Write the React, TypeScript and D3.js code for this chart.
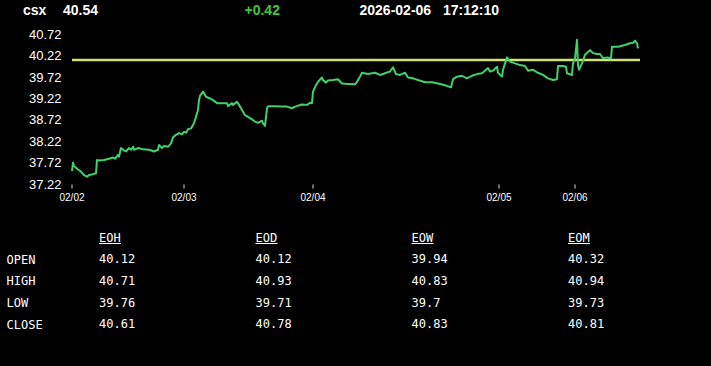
import React, { useEffect } from "react";
import * as d3 from "d3";

const symbol = "csx";
const lastPrice = "40.54";
const change = "+0.42";
const dateText = "2026-02-06";
const timeText = "17:12:10";
const refValue = 40.12;

const yTickLabels = [37.22, 37.72, 38.22, 38.72, 39.22, 39.72, 40.22, 40.72];
const xTickIdx = [0, 112, 241, 427, 503];
const xTickLabels = ["02/02", "02/03", "02/04", "02/05", "02/06"];

const idx = [0,1,2,6,9,12,15,17,21,24,25,27,32,37,41,43,46,47,49,51,54,57,59,61,62,66,71,77,82,86,87,90,92,96,99,101,104,107,110,112,114,116,119,122,124,126,127,128,131,134,138,141,145,150,155,156,160,161,165,167,170,173,176,180,183,186,190,191,193,195,196,203,210,215,220,223,230,235,238,240,241,244,246,250,251,254,256,261,266,270,276,283,285,288,290,296,303,308,313,318,321,324,328,333,336,341,346,353,360,366,373,379,381,385,390,395,400,405,410,413,416,418,421,425,426,430,431,435,438,443,448,453,456,461,466,471,476,481,485,486,491,494,495,500,501,503,505,506,507,510,513,518,521,525,528,531,535,539,540,546,553,558,561,563,565,566];
const price = [37.52,37.72,37.64,37.56,37.51,37.43,37.39,37.43,37.45,37.47,37.78,37.77,37.78,37.81,37.84,37.81,37.90,37.86,38.06,38.02,37.98,38.06,38.02,38.09,38.02,38.06,38.03,38.02,37.98,38.02,38.13,38.06,38.11,38.09,38.17,38.31,38.37,38.41,38.38,38.44,38.42,38.50,38.52,38.64,38.79,38.95,39.18,39.28,39.38,39.26,39.22,39.18,39.11,39.11,39.11,39.04,39.11,39.07,39.14,39.07,38.95,38.83,38.79,38.73,38.68,38.65,38.70,38.64,38.58,38.99,39.04,39.04,39.03,39.03,38.99,39.03,39.08,39.07,39.12,39.11,39.38,39.53,39.61,39.71,39.65,39.59,39.64,39.65,39.67,39.57,39.56,39.55,39.61,39.73,39.82,39.79,39.82,39.77,39.81,39.85,39.95,39.79,39.77,39.82,39.71,39.69,39.65,39.60,39.60,39.57,39.53,39.48,39.67,39.73,39.75,39.69,39.75,39.79,39.81,39.87,39.93,39.85,39.87,39.96,39.82,39.73,39.89,40.18,40.08,40.04,40.00,39.98,39.87,39.89,39.82,39.77,39.69,39.65,39.67,39.98,39.98,39.96,39.81,39.77,40.04,40.16,40.59,40.00,39.89,40.04,40.24,40.35,40.28,40.26,40.26,40.16,40.18,40.16,40.43,40.43,40.47,40.51,40.52,40.57,40.51,40.39];

const tableCols = ["EOH", "EOD", "EOW", "EOM"];
const tableRows = ["OPEN", "HIGH", "LOW", "CLOSE"];
const eohVals = ["40.12", "40.71", "39.76", "40.61"];
const eodVals = ["40.12", "40.93", "39.71", "40.78"];
const eowVals = ["39.94", "40.83", "39.7", "40.83"];
const eomVals = ["40.32", "40.94", "39.73", "40.81"];

const W = 711;
const H = 366;

export default function App() {
  useEffect(() => {
    document.body.style.margin = "0";
    document.body.style.background = "#000";
  }, []);

  const x = d3.scaleLinear().domain([0, 568]).range([72, 640]);
  const y = d3.scaleLinear().domain([37.22, 40.72]).range([184, 34.3]);
  const pts: [number, number][] = idx.map((t, i) => [t, price[i]]);
  const line = d3
    .line<[number, number]>()
    .x((d) => x(d[0]))
    .y((d) => y(d[1]));

  const colX = [99, 255.5, 411.5, 568];
  const colVals = [eohVals, eodVals, eowVals, eomVals];
  const rowY = (i: number) => 259 + i * 21.9;
  const mono = "'DejaVu Sans Mono', monospace";
  const sans = "'Liberation Sans', Arial, sans-serif";

  return (
    <svg width={W} height={H} style={{ display: "block", background: "#000" }}>
      <rect x={0} y={0} width={W} height={H} fill="#000" />
      <g fontFamily={sans} fontWeight="bold" fontSize={14}>
        <text x={23} y={15} fill="#fff">{symbol}</text>
        <text x={63} y={15} fill="#fff">{lastPrice}</text>
        <text x={244.5} y={15} fill="#3fc63f">{change}</text>
        <text x={359.5} y={15} fill="#fff">{dateText}</text>
        <text x={443} y={15} fill="#fff">{timeText}</text>
      </g>
      <g fontFamily={sans} fontSize={13} fill="#fff" textAnchor="end">
        {yTickLabels.map((v) => (
          <text key={v} x={61.5} y={y(v)} dominantBaseline="central">
            {v.toFixed(2)}
          </text>
        ))}
      </g>
      <g>
        {xTickIdx.map((t, i) => (
          <g key={t}>
            <line x1={x(t)} x2={x(t)} y1={184.5} y2={188.5} stroke="#ddd" strokeWidth={1} />
            <text
              x={x(t)}
              y={197.5}
              fontFamily={sans}
              fontSize={10}
              fill="#fff"
              textAnchor="middle"
              dominantBaseline="central"
            >
              {xTickLabels[i]}
            </text>
          </g>
        ))}
      </g>
      <line x1={72} x2={640} y1={y(refValue)} y2={y(refValue)} stroke="#d3e46c" strokeWidth={2.5} />
      <path d={line(pts) || ""} fill="none" stroke="#40d06c" strokeWidth={2} strokeLinejoin="round" />
      <g fontFamily={mono} fontSize={12} fill="#fff">
        {tableCols.map((c, j) => (
          <g key={c}>
            <text x={colX[j]} y={238} dominantBaseline="central">{c}</text>
            <line x1={colX[j]} x2={colX[j] + 22} y1={243.5} y2={243.5} stroke="#fff" strokeWidth={1} />
          </g>
        ))}
        {tableRows.map((r, i) => (
          <text key={r} x={6.5} y={rowY(i) + (i === 0 ? 1.2 : 0.5)} dominantBaseline="central">{r}</text>
        ))}
        {colVals.map((vals, j) =>
          vals.map((v, i) => (
            <text key={j + "-" + i} x={colX[j]} y={rowY(i) - 0.3} dominantBaseline="central">{v}</text>
          ))
        )}
      </g>
    </svg>
  );
}
